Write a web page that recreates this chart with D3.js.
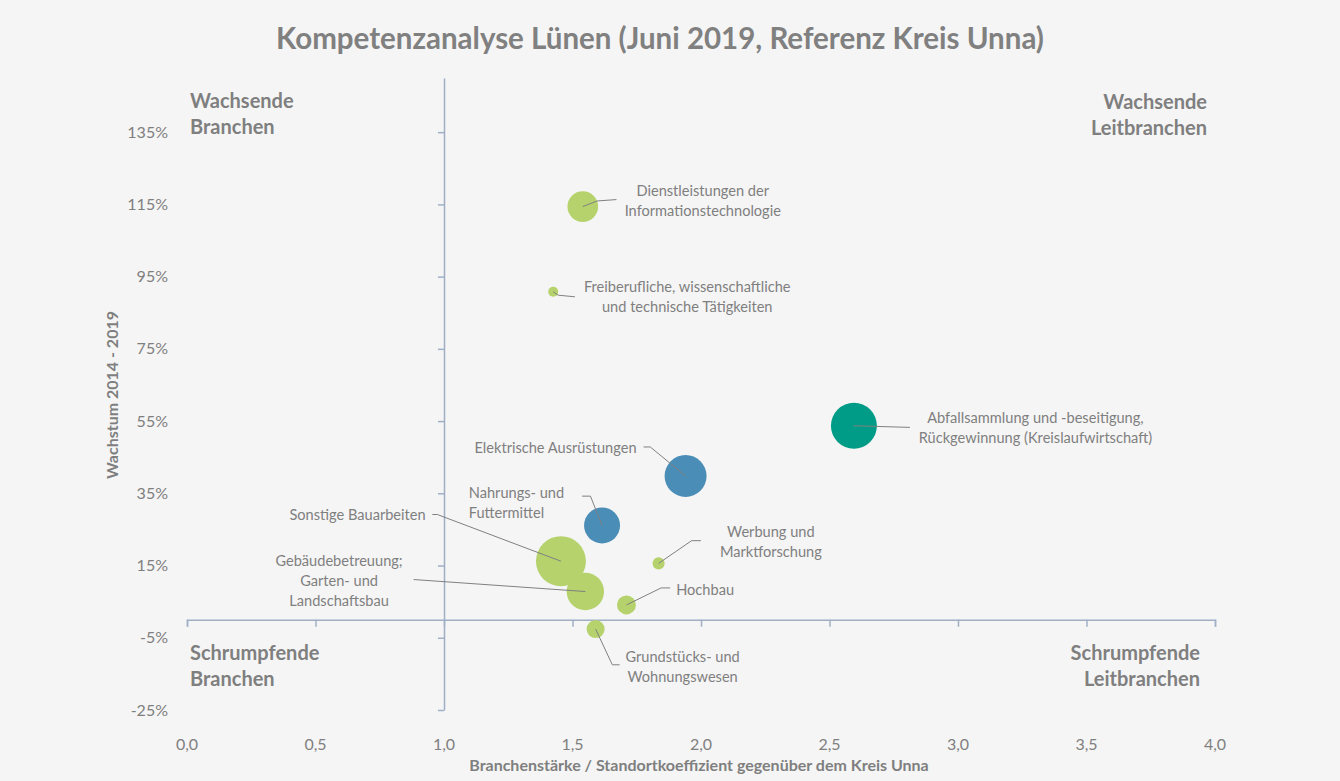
<!DOCTYPE html>
<html lang="de">
<head>
<meta charset="utf-8">
<title>Kompetenzanalyse Lünen</title>
<script src="https://cdn.jsdelivr.net/npm/d3@7/dist/d3.min.js"></script>
<style>
  html, body { margin: 0; padding: 0; background: #f5f5f5; }
  svg { display: block; font-family: Lato, "Open Sans", sans-serif; }
</style>
</head>
<body>
<svg id="chart" width="1340" height="781"></svg>
<script>
// Branchen (Wirtschaftszweige) im Portfolio
const branchen = [
  "Dienstleistungen der Informationstechnologie",
  "Freiberufliche, wissenschaftliche und technische Tätigkeiten",
  "Elektrische Ausrüstungen",
  "Nahrungs- und Futtermittel",
  "Sonstige Bauarbeiten",
  "Gebäudebetreuung; Garten- und Landschaftsbau",
  "Werbung und Marktforschung",
  "Hochbau",
  "Grundstücks- und Wohnungswesen",
  "Abfallsammlung und -beseitigung, Rückgewinnung (Kreislaufwirtschaft)"
];
// Standortkoeffizient gegenüber dem Kreis Unna
const standortkoeffizient = [1.54, 1.425, 1.94, 1.615, 1.455, 1.55, 1.835, 1.71, 1.59, 2.595];
// Beschäftigungswachstum 2014 - 2019
const wachstum = [1.144, 0.908, 0.398, 0.261, 0.162, 0.078, 0.156, 0.041, -0.026, 0.537];
// Blasengröße (Beschäftigte)
const beschaeftigte = [375, 40, 705, 518, 1000, 560, 58, 144, 130, 846];
// Branchengruppe
const gruppe = ["Branche", "Branche", "Leitbranche", "Leitbranche", "Branche",
                "Branche", "Branche", "Branche", "Branche", "Kernbranche"];
// Beschriftungen (Zeilen je Blase)
const beschriftung = [
  ["Dienstleistungen der", "Informationstechnologie"],
  ["Freiberufliche, wissenschaftliche", "und technische Tätigkeiten"],
  ["Elektrische Ausrüstungen"],
  ["Nahrungs- und", "Futtermittel"],
  ["Sonstige Bauarbeiten"],
  ["Gebäudebetreuung;", "Garten- und", "Landschaftsbau"],
  ["Werbung und", "Marktforschung"],
  ["Hochbau"],
  ["Grundstücks- und", "Wohnungswesen"],
  ["Abfallsammlung und -beseitigung,", "Rückgewinnung (Kreislaufwirtschaft)"]
];
const xTicks = [0, 0.5, 1, 1.5, 2, 2.5, 3, 3.5, 4];
const yTicks = [-0.25, -0.05, 0.15, 0.35, 0.55, 0.75, 0.95, 1.15, 1.35];
const quadranten = [
  { zeilen: ["Wachsende", "Branchen"], pos: "ol" },
  { zeilen: ["Wachsende", "Leitbranchen"], pos: "or" },
  { zeilen: ["Schrumpfende", "Branchen"], pos: "ul" },
  { zeilen: ["Schrumpfende", "Leitbranchen"], pos: "ur" }
];

// Placement of the callouts relative to each bubble centre (pixels)
const callout = [
  { anchor: "middle", dx: 120,   dy: -16,   lead: [[0,0],[14.4,-5.6],[33.7,-7]] },
  { anchor: "middle", dx: 134,   dy: -4.3,  lead: [[0,0],[5,3.4],[21.7,5]] },
  { anchor: "end",    dx: -49,   dy: -27.7, lead: [[0,0],[-35.3,-29],[-42,-29]] },
  { anchor: "start",  dx: -133.3,dy: -32.7, lead: [[0,0],[-11.6,-29.3],[-20,-29.3]] },
  { anchor: "end",    dx: -135.3,dy: -46.7, lead: [[0,0],[-123.6,-46.7],[-128.6,-46.7]] },
  { anchor: "middle", dx: -246.3,dy: -30.3, lead: [[0,0],[-171.7,-12]] },
  { anchor: "middle", dx: 112.3, dy: -31.4, lead: [[0,0],[33,-22.7],[42.3,-22.7]] },
  { anchor: "start",  dx: 49.7,  dy: -15.3, lead: [[0,0],[34.7,-17],[43.7,-17]] },
  { anchor: "middle", dx: 87,    dy: 27.4,  lead: [[0,0],[16.7,35.7],[24,35.7]] },
  { anchor: "middle", dx: 181.5, dy: -7.4,  lead: [[0,0],[56,1.6]] }
];

const textGrau = "#7f7f7f";
const achsenFarbe = "#9fb0c6";
const lineHeight = 20;

const svg = d3.select("#chart");
svg.append("rect").attr("width", 1340).attr("height", 781).attr("fill", "#f5f5f5");

const x = d3.scaleLinear().domain([0, 4]).range([187, 1215]);
const y = d3.scaleLinear().domain([-0.25, 1.5]).range([710, 78]);
const r = d3.scaleSqrt().domain([0, d3.max(beschaeftigte)]).range([0, 25]);
const farbe = d3.scaleOrdinal()
  .domain(["Branche", "Leitbranche", "Kernbranche"])
  .range(["#b6d26c", "#4a8db7", "#009c87"]);

// Title
svg.append("text")
  .attr("x", 660).attr("y", 49)
  .attr("text-anchor", "middle")
  .attr("font-size", 29.5).attr("font-weight", 700)
  .attr("fill", "#808080")
  .text("Kompetenzanalyse Lünen (Juni 2019, Referenz Kreis Unna)");

// Horizontal axis, crossing at 0 %
const xAxis = svg.append("g")
  .attr("transform", `translate(0,${y(0)})`)
  .call(d3.axisBottom(x).tickValues(xTicks).tickSize(7).tickSizeOuter(7).tickFormat(""));
xAxis.select(".domain").attr("stroke", achsenFarbe).attr("stroke-width", 1.5);
xAxis.selectAll(".tick line").attr("stroke", achsenFarbe).attr("stroke-width", 1.5);

// Horizontal tick labels sit below the plot
const fmtX = d3.format(".1f");
svg.append("g").selectAll("text").data(xTicks).join("text")
  .attr("x", d => x(d)).attr("y", 750)
  .attr("text-anchor", "middle")
  .attr("font-size", 16).attr("fill", textGrau)
  .text(d => fmtX(d).replace(".", ","));

// Vertical axis at a Standortkoeffizient of 1.0
const yAxis = svg.append("g")
  .attr("transform", `translate(${x(1)},0)`)
  .call(d3.axisLeft(y).tickValues(yTicks).tickSize(6).tickSizeOuter(0).tickFormat(""));
yAxis.select(".domain").attr("stroke", achsenFarbe).attr("stroke-width", 1.5);
yAxis.selectAll(".tick line").attr("stroke", achsenFarbe).attr("stroke-width", 1.5);

svg.append("g").selectAll("text").data(yTicks).join("text")
  .attr("x", 168).attr("y", d => y(d) + 5.5)
  .attr("text-anchor", "end")
  .attr("font-size", 16).attr("fill", textGrau)
  .text(d => Math.round(d * 100) + "%");

// Axis titles
svg.append("text")
  .attr("x", 699).attr("y", 771)
  .attr("text-anchor", "middle")
  .attr("font-size", 16).attr("font-weight", 700).attr("fill", textGrau)
  .text("Branchenstärke / Standortkoeffizient gegenüber dem Kreis Unna");
svg.append("text")
  .attr("transform", `translate(118,395) rotate(-90)`)
  .attr("text-anchor", "middle")
  .attr("font-size", 16).attr("font-weight", 700).attr("fill", textGrau)
  .text("Wachstum 2014 - 2019");

// Quadrant labels
const qPos = {
  ol: { x: 190,  y: 108, anchor: "start" },
  or: { x: 1207, y: 109, anchor: "end" },
  ul: { x: 190,  y: 660, anchor: "start" },
  ur: { x: 1200, y: 660, anchor: "end" }
};
quadranten.forEach(q => {
  const p = qPos[q.pos];
  const t = svg.append("text")
    .attr("text-anchor", p.anchor)
    .attr("font-size", 20).attr("font-weight", 700).attr("fill", textGrau);
  q.zeilen.forEach((z, i) => {
    t.append("tspan").attr("x", p.x).attr("y", p.y + i * 26).text(z);
  });
});

// Bubbles
const punkte = branchen.map((name, i) => ({
  name,
  sx: standortkoeffizient[i],
  wy: wachstum[i],
  size: beschaeftigte[i],
  gruppe: gruppe[i],
  zeilen: beschriftung[i],
  c: callout[i]
}));

svg.append("g").selectAll("circle")
  .data(punkte.slice().sort((a, b) => b.size - a.size))
  .join("circle")
  .attr("cx", d => x(d.sx))
  .attr("cy", d => y(d.wy))
  .attr("r", d => r(d.size))
  .attr("fill", d => farbe(d.gruppe));

// Leader lines and labels
const line = d3.line();
const labels = svg.append("g");
punkte.forEach(d => {
  const cx = x(d.sx), cy = y(d.wy);
  labels.append("path")
    .attr("d", line(d.c.lead.map(([a, b]) => [cx + a, cy + b])))
    .attr("fill", "none").attr("stroke", "#808080").attr("stroke-width", 1);
  const t = labels.append("text")
    .attr("text-anchor", d.c.anchor)
    .attr("font-size", 14.6).attr("fill", textGrau);
  d.zeilen.forEach((z, i) => {
    t.append("tspan")
      .attr("x", cx + d.c.dx)
      .attr("y", cy + d.c.dy + 5 + i * lineHeight)
      .text(z);
  });
});
</script>
</body>
</html>
